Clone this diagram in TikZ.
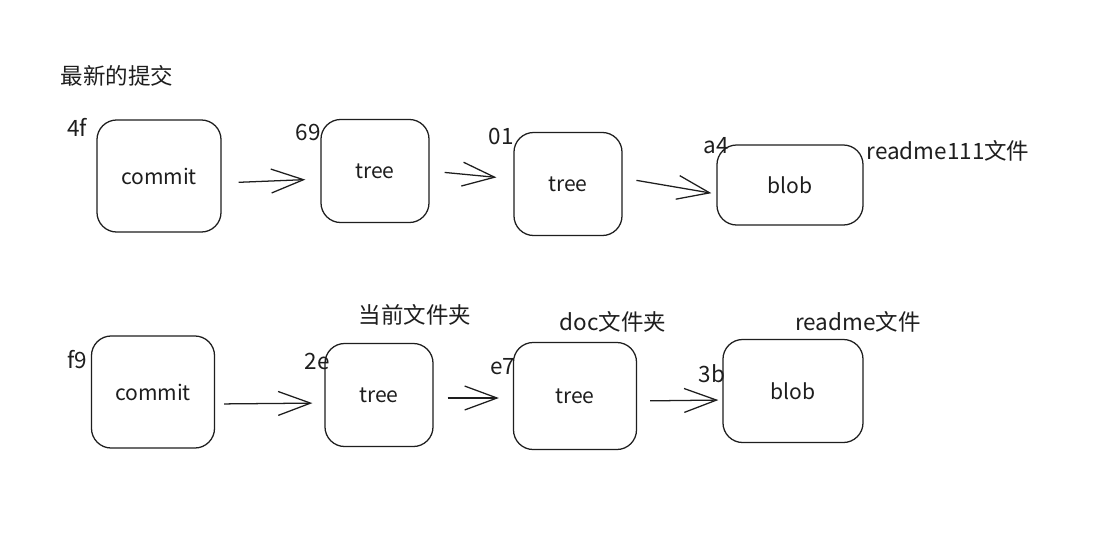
\documentclass[tikz,border=0pt]{standalone}
\usepackage{fontspec}
\usepackage{tikz}
\usetikzlibrary{arrows.meta, positioning, calc}
\setmainfont{Noto Sans CJK SC}
\definecolor{inkblack}{RGB}{30,30,30}
\tikzset{
  objbox/.style={rectangle, rounded corners=14pt, draw=inkblack, line width=0.9pt,
    text=inkblack, font=\fontsize{15}{18}\selectfont, align=center, inner sep=0pt},
  hashlbl/.style={text=inkblack, font=\fontsize{16}{18}\selectfont, inner sep=1pt},
  namelbl/.style={text=inkblack, font=\fontsize{16}{19}\selectfont, inner sep=1pt},
  ar/.style={-{Straight Barb[length=23pt, width=17pt]}, line width=0.9pt, color=inkblack},
}

\begin{document}
\begin{tikzpicture}[x=0.025cm, y=-0.025cm]
\useasboundingbox[fill=white] (0,0) rectangle (1120,548);

% newest commit
\node[namelbl] (newest) at (117,76) {最新的提交};
\node[objbox, minimum width=3.1cm, minimum height=2.8cm] (c1) at (159,176) {commit};
\node[objbox, minimum width=2.7cm, minimum height=2.575cm] (t1) at (375,171) {tree};
\node[objbox, minimum width=2.7cm, minimum height=2.575cm] (t2) at (568,184) {tree};
\node[objbox, minimum width=3.65cm, minimum height=2cm] (b1) at (790,185) {blob};
\node[hashlbl] (h4f) at (77,127) {4f};
\node[hashlbl] (h69) at (308,132) {69};
\node[hashlbl] (h01) at (501,136) {01};
\node[hashlbl] (ha4) at (716,146) {a4};
\node[namelbl] (rd111) at (948,151) {readme111文件};

\draw[ar, shorten <=0.425cm, shorten >=0.375cm] ($(c1.east)+(0,7)$) -- ($(t1.west)+(0,8)$);
\draw[ar, shorten <=0.375cm, shorten >=0.425cm] (t1.east) -- ($(t2.west)+(0,-5)$);
\draw[ar, shorten <=0.35cm, shorten >=0.125cm] ($(t2.east)+(0,-6)$) -- ($(b1.west)+(0,9)$);

% previous commit
\node[objbox, minimum width=3.075cm, minimum height=2.8cm] (c2) at (153,392) {commit};
\node[objbox, minimum width=2.7cm, minimum height=2.575cm] (t3) at (379,395) {tree};
\node[objbox, minimum width=3.075cm, minimum height=2.675cm] (t4) at (575,396) {tree};
\node[objbox, minimum width=3.5cm, minimum height=2.575cm] (b2) at (793,391) {blob};
\node[hashlbl] (hf9) at (77,360) {f9};
\node[hashlbl] (h2e) at (317,361) {2e};
\node[hashlbl] (he7) at (503,367) {e7};
\node[hashlbl] (h3b) at (712,374) {3b};
\node[namelbl] (curdir) at (415,315) {当前文件夹};
\node[namelbl] (docdir) at (613,322) {doc文件夹};
\node[namelbl] (rdfile) at (858,322) {readme文件};

\draw[ar, shorten <=0.225cm, shorten >=0.3cm] ($(c2.east)+(0,12)$) -- ($(t3.west)+(0,8)$);
\draw[ar, shorten <=0.35cm, shorten >=0.35cm] ($(t3.east)+(0,3)$) -- ($(t4.west)+(0,2)$);
\draw[ar, shorten <=0.325cm, shorten >=0.1cm] ($(t4.east)+(0,5)$) -- ($(b2.west)+(0,9)$);
\end{tikzpicture}
\end{document}
